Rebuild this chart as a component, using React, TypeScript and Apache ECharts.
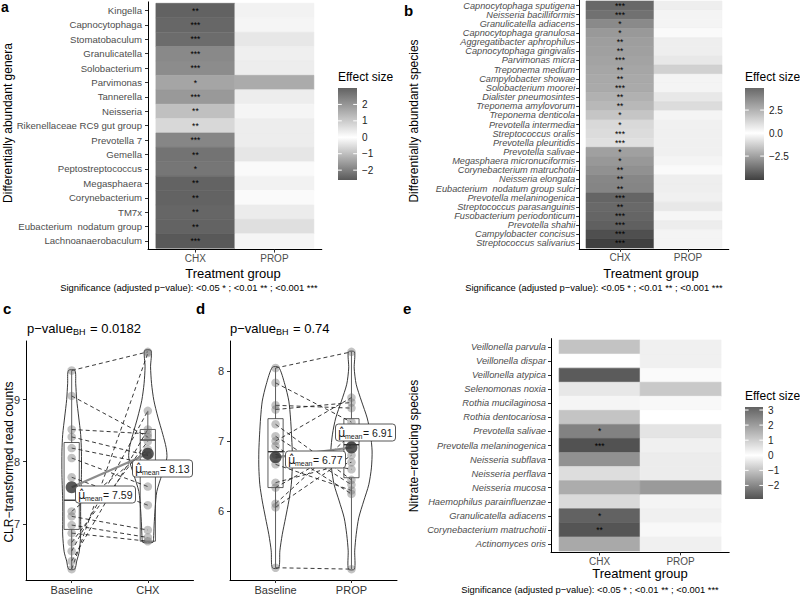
import React, { useEffect, useRef } from "react";
import * as echarts from "echarts";

// ---------------- data ----------------
const treatments = ["CHX", "PROP"];

const genera = [
  "Kingella", "Capnocytophaga", "Stomatobaculum", "Granulicatella", "Solobacterium",
  "Parvimonas", "Tannerella", "Neisseria", "Rikenellaceae RC9 gut group", "Prevotella 7",
  "Gemella", "Peptostreptococcus", "Megasphaera", "Corynebacterium", "TM7x",
  "Eubacterium  nodatum group", "Lachnoanaerobaculum",
];
const generaCHX = [3.0, 2.9, 2.8, 2.25, 2.2, 1.72, 1.95, 1.2, 0.75, -1.9, -2.2, -2.15, -2.45, -2.45, -2.4, -2.45, -2.6];
const generaPROP = [0.25, 0.2, 0.45, 0.3, 0.35, 1.6, 0.35, 0.2, 0.35, 0.35, -0.4, 0.1, 0.25, 0.1, -0.3, -0.5, 0.2];
const generaSig = ["**", "***", "***", "***", "***", "*", "***", "**", "**", "***", "**", "*", "**", "**", "**", "**", "***"];

const species = [
  "Capnocytophaga sputigena", "Neisseria bacilliformis", "Granulicatella adiacens",
  "Capnocytophaga granulosa", "Aggregatibacter aphrophilus", "Capnocytophaga gingivalis",
  "Parvimonas micra", "Treponema medium", "Campylobacter showae", "Solobacterium moorei",
  "Dialister pneumosintes", "Treponema amylovorum", "Treponema denticola", "Prevotella intermedia",
  "Streptococcus oralis", "Prevotella pleuritidis", "Prevotella salivae",
  "Megasphaera micronuciformis", "Corynebacterium matruchotii", "Neisseria elongata",
  "Eubacterium  nodatum group sulci", "Prevotella melaninogenica", "Streptococcus parasanguinis",
  "Fusobacterium periodonticum", "Prevotella shahii", "Campylobacter concisus", "Streptococcus salivarius",
];
const speciesCHX = [4.9, 4.6, 3.8, 3.3, 3.15, 3.1, 3.0, 2.9, 2.8, 2.75, 2.55, 2.3, 1.9, 1.25, 1.15, 1.0,
  -2.55, -2.75, -2.95, -3.2, -3.25, -4.1, -4.0, -4.1, -4.25, -4.7, -5.1];
const speciesPROP = [0.55, 0.35, 0.35, 0.15, 0.55, 0.55, 0.75, 1.5, 0.35, 0.35, 0.75, 1.15, 0.35, 0.5,
  0.5, 0.5, 0.5, 0.35, 0.15, 0.55, 0.55, 0.5, 0.75, 0.3, 0.6, 0.35, 0.35];
const speciesSig = ["***", "***", "*", "*", "**", "**", "***", "**", "**", "***", "**", "**", "*", "*",
  "***", "***", "*", "*", "**", "**", "**", "***", "**", "***", "***", "***", "***"];

const nitrate = [
  "Veillonella parvula", "Veillonella dispar", "Veillonella atypica", "Selenomonas noxia",
  "Rothia mucilaginosa", "Rothia dentocariosa", "Prevotella salivae", "Prevotella melaninogenica",
  "Neisseria subflava", "Neisseria perflava", "Neisseria mucosa", "Haemophilus parainfluenzae",
  "Granulicatella adiacens", "Corynebacterium matruchotii", "Actinomyces oris",
];
const nitrateCHX = [-1.0, 0.02, -2.75, -0.4, 0.2, 1.2, -2.1, -2.9, 2.25, 0.7, 1.7, 0.75, 3.2, -2.85, 1.75];
const nitratePROP = [0.3, 0.3, 0.1, 1.1, 0.15, 0.0, 0.55, 0.3, 0.38, 0.38, 2.05, 0.22, 0.3, 0.15, 0.3];
const nitrateSig = ["", "", "", "", "", "", "*", "***", "", "", "", "", "*", "**", ""];

const legendTicksA = [-2, -1, 0, 1, 2];
const legendTicksB = [-2.5, 0, 2.5];
const legendTicksE = [-2, -1, 0, 1, 2, 3];

// panel c
const cGroups = ["Baseline", "CHX"];
const cBaseline = [9.47, 9.06, 8.52, 8.4, 8.22, 8.06, 7.75, 7.2, 7.12, 6.98, 6.85, 6.7, 6.56, 6.4, 6.27];
const cTreated = [9.77, 8.4, 8.45, 8.1, 7.97, 7.6, 7.3, 8.2, 6.9, 6.78, 6.72, 8.33, 8.82, 8.52, 9.75];
const cBox = [[6.27, 6.91, 7.38, 8.31, 9.47], [6.72, 6.72, 8.35, 8.52, 8.82]];
const cMeans = [7.59, 8.13];
const cPValue = "0.0182";
const cTicks = [7, 8, 9];
const cViolinBase = [[9.47, 0.043], [9.26, 0.053], [9.0, 0.066], [8.72, 0.092], [8.44, 0.118], [8.17, 0.128],
  [7.79, 0.128], [7.36, 0.118], [7.04, 0.118], [6.82, 0.118], [6.55, 0.099], [6.4, 0.066], [6.27, 0.04]];
const cViolinTreat = [[9.79, 0.043], [9.53, 0.036], [9.26, 0.049], [8.99, 0.079], [8.72, 0.132], [8.44, 0.197],
  [8.23, 0.24], [8.06, 0.25], [7.79, 0.184], [7.52, 0.118], [7.25, 0.096], [6.98, 0.083], [6.76, 0.075], [6.7, 0.066]];

// panel d
const dGroups = ["Baseline", "PROP"];
const dBaseline = [8.04, 7.83, 7.51, 7.45, 7.24, 7.07, 7.0, 6.93, 6.81, 6.67, 6.41, 6.34, 6.11, 6.06, 5.2];
const dTreated = [8.27, 7.27, 7.47, 7.55, 6.45, 6.38, 7.62, 6.25, 6.6, 6.3, 6.7, 6.95, 7.1, 6.8, 5.18];
const dBox = [[5.2, 6.34, 6.85, 7.32, 8.04], [5.18, 6.48, 6.95, 7.32, 8.27]];
const dMeans = [6.77, 6.91];
const dPValue = "0.74";
const dTicks = [6, 7, 8];
const dViolinBase = [[8.05, 0.043], [7.81, 0.122], [7.57, 0.175], [7.33, 0.197], [7.1, 0.21], [6.86, 0.22],
  [6.62, 0.22], [6.38, 0.207], [6.15, 0.175], [5.91, 0.132], [5.67, 0.088], [5.44, 0.057], [5.2, 0.043]];
const dViolinTreat = [[8.27, 0.04], [8.04, 0.036], [7.81, 0.062], [7.57, 0.132], [7.33, 0.207], [7.1, 0.25],
  [6.86, 0.272], [6.62, 0.263], [6.38, 0.228], [6.15, 0.162], [5.91, 0.096], [5.67, 0.062], [5.44, 0.043], [5.18, 0.04]];

// ---------------- styling ----------------
const FONT = "'Liberation Sans', Arial, Helvetica, sans-serif";
const MINUS = "\u2212";
const LOW = [64, 64, 64];
const HIGH = [98, 98, 98];
const LOWC = "#404040";
const HIGHC = "#626262";

function colAt(v: number, M: number) {
  const t = Math.min(1, Math.abs(v) / M);
  const end = v >= 0 ? HIGH : LOW;
  const c = end.map((e) => Math.round(255 + (e - 255) * t));
  return `rgb(${c[0]},${c[1]},${c[2]})`;
}
const fmt = (v: number, d: number) => (v < 0 ? MINUS : "") + Math.abs(v).toFixed(d);

function txt(x: number, y: number, text: string, o: any = {}) {
  return {
    type: "text", x, y, silent: true, rotation: o.rot || 0, z: o.z || 0,
    style: {
      text, fontFamily: o.family || FONT, fontSize: o.size || 12, fill: o.color || "#000",
      fontWeight: o.weight || "normal", fontStyle: o.style || "normal",
      align: o.align || "left", verticalAlign: o.va || "middle", rich: o.rich,
    },
  };
}

const axisLine = { show: true, onZero: false, lineStyle: { color: "#000", width: 1 } };
const tick = (vals: number[]) => ({ show: true, length: 3, customValues: vals, lineStyle: { color: "#333", width: 1 } });

function heatPanel(gi: number, names: string[], chx: number[], prop: number[], sig: string[], lab: any) {
  const data: number[][] = [];
  const sigs: string[] = [];
  chx.forEach((v, i) => { data.push([1, i + 1, v]); sigs.push(sig[i]); });
  prop.forEach((v, i) => { data.push([2, i + 1, v]); sigs.push(""); });
  const M = Math.max(...chx.map(Math.abs), ...prop.map(Math.abs));
  const rows = names.map((_, i) => i + 1);
  return {
    xAxis: {
      gridIndex: gi, type: "value", min: 0.4, max: 2.6, axisLine, axisTick: tick([1, 2]),
      axisLabel: { customValues: [1, 2], formatter: (v: number) => treatments[Math.round(v) - 1], fontSize: 10, color: "#4d4d4d", margin: 4, fontFamily: FONT },
      splitLine: { show: false },
    },
    yAxis: {
      gridIndex: gi, type: "value", inverse: true, min: 0.4, max: names.length + 0.6, axisLine, axisTick: tick(rows),
      axisLabel: {
        customValues: rows, formatter: (v: number) => names[Math.round(v) - 1], fontSize: lab.size, lineHeight: lab.lh,
        fontStyle: lab.italic ? "italic" : "normal", color: "#4d4d4d", margin: lab.margin, fontFamily: FONT,
        showMinLabel: true, showMaxLabel: true, hideOverlap: false,
      },
      splitLine: { show: false },
    },
    series: {
      type: "custom", xAxisIndex: gi, yAxisIndex: gi, z: 2, silent: true, data,
      renderItem: (params: any, api: any) => {
        const x = api.value(0), y = api.value(1);
        const p0 = api.coord([x - 0.5, y - 0.5]);
        const p1 = api.coord([x + 0.5, y + 0.5]);
        const fill = api.visual("color");
        const rx = Math.min(p0[0], p1[0]), ry = Math.min(p0[1], p1[1]);
        const w = Math.abs(p1[0] - p0[0]), h = Math.abs(p1[1] - p0[1]);
        const s = sigs[params.dataIndex];
        const children: any[] = [{ type: "rect", shape: { x: rx, y: ry, width: w, height: h }, style: { fill, stroke: fill, lineWidth: 0.6 } }];
        if (s) children.push({ type: "text", x: rx + w / 2, y: ry + h / 2, style: { text: s, fontFamily: FONT, fontSize: 8.5, fill: "#000", align: "center", verticalAlign: "middle" } });
        return { type: "group", children };
      },
    },
    visualMap: { show: false, dimension: 2, min: -M, max: M, inRange: { color: [LOWC, "#ffffff", HIGHC] } },
    M, vals: chx.concat(prop),
  };
}

function legendEls(x: number, y: number, w: number, h: number, vals: number[], ticks: number[], dec: number) {
  const mn = Math.min(...vals), mx = Math.max(...vals);
  const M = Math.max(Math.abs(mn), Math.abs(mx));
  const py = (v: number) => y + ((mx - v) / (mx - mn)) * h;
  const els: any[] = [txt(x, y - 11, "Effect size", { size: 12 })];
  els.push({
    type: "rect", silent: true, shape: { x, y, width: w, height: h },
    style: {
      fill: new echarts.graphic.LinearGradient(0, 0, 0, 1, [
        { offset: 0, color: colAt(mx, M) }, { offset: mx / (mx - mn), color: "#ffffff" }, { offset: 1, color: colAt(mn, M) },
      ]),
    },
  });
  ticks.forEach((t) => {
    const yy = py(t);
    els.push({ type: "line", silent: true, shape: { x1: x, y1: yy, x2: x + w / 5, y2: yy }, style: { stroke: "#fff", lineWidth: 1 } });
    els.push({ type: "line", silent: true, shape: { x1: x + w - w / 5, y1: yy, x2: x + w, y2: yy }, style: { stroke: "#fff", lineWidth: 1 } });
    els.push(txt(x + w + 5, yy, fmt(t, dec), { size: 10, color: "#222" }));
  });
  return els;
}

function withinPanel(ai: number, groups: string[], base: number[], treat: number[], box: number[][], violins: number[][][], means: number[], ticks: number[]) {
  const all = base.concat(treat);
  const lo = Math.min(...all), hi = Math.max(...all), r = hi - lo;
  const xAxis = {
    gridIndex: ai, type: "value", min: 0.4, max: 2.6, axisLine, axisTick: tick([1, 2]),
    axisLabel: { customValues: [1, 2], formatter: (v: number) => groups[Math.round(v) - 1], fontSize: 11, color: "#333", margin: 4, fontFamily: FONT },
    splitLine: { show: false },
  };
  const yAxis = {
    gridIndex: ai, type: "value", min: lo - 0.05 * r, max: hi + 0.05 * r, axisLine, axisTick: tick(ticks),
    axisLabel: { customValues: ticks, fontSize: 11, color: "#333", margin: 6, fontFamily: FONT },
    splitLine: { show: false },
  };
  const series: any[] = [];
  series.push({
    type: "custom", xAxisIndex: ai, yAxisIndex: ai, z: 2, silent: true,
    data: violins.map((p, i) => [i + 1, p[0][0]]),
    renderItem: (params: any, api: any) => {
      const i = params.dataIndex, x = i + 1, prof = violins[i];
      const right = prof.map(([v, w]) => api.coord([x + w, v]));
      const left = prof.slice().reverse().map(([v, w]) => api.coord([x - w, v]));
      return { type: "polygon", shape: { points: right.concat(left), smooth: 0.25 }, style: { fill: "none", stroke: "#222", lineWidth: 0.9 } };
    },
  });
  series.push({
    type: "custom", xAxisIndex: ai, yAxisIndex: ai, z: 3, silent: true,
    data: box.map((b, i) => [i + 1, b[2]]),
    renderItem: (params: any, api: any) => {
      const i = params.dataIndex, x = i + 1;
      const [mn, q1, md, q3, mx] = box[i];
      const pMin = api.coord([x, mn]), pQ1 = api.coord([x, q1]), pMed = api.coord([x, md]), pQ3 = api.coord([x, q3]), pMax = api.coord([x, mx]);
      const xl = api.coord([x - 0.1, q1])[0], xr = api.coord([x + 0.1, q1])[0];
      const st = { stroke: "#333", lineWidth: 0.8, fill: "none" };
      return {
        type: "group", children: [
          { type: "line", shape: { x1: pMin[0], y1: pMin[1], x2: pQ1[0], y2: pQ1[1] }, style: st },
          { type: "line", shape: { x1: pQ3[0], y1: pQ3[1], x2: pMax[0], y2: pMax[1] }, style: st },
          { type: "rect", shape: { x: xl, y: pQ3[1], width: xr - xl, height: pQ1[1] - pQ3[1] }, style: st },
          { type: "line", shape: { x1: xl, y1: pMed[1], x2: xr, y2: pMed[1] }, style: { stroke: "#333", lineWidth: 1.4 } },
        ],
      };
    },
  });
  series.push({
    type: "custom", xAxisIndex: ai, yAxisIndex: ai, z: 4, silent: true,
    data: base.map((b, i) => [1, b, 2, treat[i]]),
    encode: { x: [0, 2], y: [1, 3] },
    renderItem: (params: any, api: any) => {
      const p1 = api.coord([api.value(0), api.value(1)]);
      const p2 = api.coord([api.value(2), api.value(3)]);
      return { type: "line", shape: { x1: p1[0], y1: p1[1], x2: p2[0], y2: p2[1] }, style: { stroke: "#222", lineWidth: 0.9, lineDash: [4, 3] } };
    },
  });
  series.push({
    type: "scatter", xAxisIndex: ai, yAxisIndex: ai, z: 5, silent: true, symbolSize: 8.5,
    data: base.map((v) => [1, v]).concat(treat.map((v) => [2, v])),
    itemStyle: { color: "rgba(105,105,105,0.5)" },
  });
  series.push({
    type: "line", xAxisIndex: ai, yAxisIndex: ai, z: 6, silent: true, showSymbol: false,
    data: means.map((m, i) => [i + 1, m]), lineStyle: { color: "#8c8c8c", width: 2.2 },
  });
  series.push({
    type: "scatter", xAxisIndex: ai, yAxisIndex: ai, z: 7, silent: true, symbolSize: 12,
    data: means.map((m, i) => [i + 1, m]), itemStyle: { color: "#2f2f2f" },
  });
  return { xAxis, yAxis, series };
}

// mean label box (drawn as graphic at the pixel of the mean point)
function meanLabel(px: number, py: number, dx: number, dy: number, m: number) {
  const cx = Math.round(px + dx), cy = Math.round(py + dy);
  const W = 60, H = 17, x0 = cx - W / 2;
  return [
    { type: "rect", silent: true, z: 10, shape: { x: x0 + 0.5, y: cy - H / 2 + 0.5, width: W, height: H, r: 3 }, style: { fill: "#fff", stroke: "#444", lineWidth: 0.9 } },
    txt(x0 + 3, cy + 1, "\u03bc\u0302", { size: 11.5, family: "'DejaVu Sans', sans-serif", color: "#1a1a1a", z: 11 }),
    txt(x0 + 10, cy + 4, "mean", { size: 7, color: "#1a1a1a", z: 11 }),
    txt(x0 + 28, cy + 1, `= ${m.toFixed(2)}`, { size: 10.5, color: "#1a1a1a", z: 11 }),
  ];
}

export default function App() {
  const ref = useRef<HTMLDivElement>(null);
  useEffect(() => {
    if (!ref.current) return;
    const chart = echarts.init(ref.current, null, { renderer: "svg", width: 800, height: 596 });

    const A = heatPanel(0, genera, generaCHX, generaPROP, generaSig, { size: 9.6, lh: 12, italic: false, margin: 6 });
    const B = heatPanel(1, species, speciesCHX, speciesPROP, speciesSig, { size: 9.2, lh: 9, italic: true, margin: 4 });
    const E = heatPanel(2, nitrate, nitrateCHX, nitratePROP, nitrateSig, { size: 9.3, lh: 12, italic: true, margin: 5 });
    const C = withinPanel(3, cGroups, cBaseline, cTreated, cBox, [cViolinBase, cViolinTreat], cMeans, cTicks);
    const D = withinPanel(4, dGroups, dBaseline, dTreated, dBox, [dViolinBase, dViolinTreat], dMeans, dTicks);

    const sigNote = `Significance (adjusted p${MINUS}value): <0.05 * ; <0.01 ** ; <0.001 ***`;
    const pRich = () => ({
      a: { fontSize: 13, fontFamily: FONT, fill: "#000", color: "#000", verticalAlign: "middle" },
      b: { fontSize: 9, fontFamily: FONT, fill: "#000", color: "#000", padding: [7, 1, 0, 0], verticalAlign: "middle" },
    });

    const graphic: any[] = [
      txt(1, 0, "a", { size: 14, weight: "bold", va: "top" }),
      txt(404, 3, "b", { size: 15, weight: "bold", va: "top" }),
      txt(3, 301, "c", { size: 15, weight: "bold", va: "top" }),
      txt(196, 301, "d", { size: 15, weight: "bold", va: "top" }),
      txt(403, 301, "e", { size: 15, weight: "bold", va: "top" }),
      txt(8, 123, "Differentially abundant genera", { size: 12, align: "center", rot: Math.PI / 2 }),
      txt(414, 121, "Differentially abundant species", { size: 12, align: "center", rot: Math.PI / 2 }),
      txt(414, 446, `Nitrate${MINUS}reducing species`, { size: 12, align: "center", rot: Math.PI / 2 }),
      txt(9, 462, `CLR${MINUS}transformed read counts`, { size: 12, align: "center", rot: Math.PI / 2 }),
      txt(233, 273, "Treatment group", { size: 13, align: "center" }),
      txt(651, 273, "Treatment group", { size: 13, align: "center" }),
      txt(640, 573, "Treatment group", { size: 13, align: "center" }),
      txt(189, 287, sigNote, { size: 9.4, align: "center" }),
      txt(594, 287, sigNote, { size: 9.4, align: "center" }),
      txt(590, 589, sigNote, { size: 9.4, align: "center" }),
      txt(27, 328, `{a|p${MINUS}value}{b|BH}{a| = ${cPValue}}`, { rich: pRich() }),
      txt(230, 328, `{a|p${MINUS}value}{b|BH}{a| = ${dPValue}}`, { rich: pRich() }),
      ...legendEls(338, 88, 19, 92, A.vals, legendTicksA, 0),
      ...legendEls(745, 88, 19, 92, B.vals, legendTicksB, 1),
      ...legendEls(745, 407, 18, 92, E.vals, legendTicksE, 0),
    ];

    const vms = [A, B, E].map((P, i) => ({ ...P.visualMap, seriesIndex: i }));

    chart.setOption({
      animation: false,
      backgroundColor: "#ffffff",
      grid: [
        { left: 148, top: 1.9, width: 173.8, height: 247.7 },
        { left: 579.2, top: 0.1, width: 149.6, height: 248.8 },
        { left: 551, top: 338.6, width: 178.2, height: 213.8 },
        { left: 26, top: 341, width: 167.5, height: 239 },
        { left: 230, top: 341, width: 167, height: 239 },
      ],
      xAxis: [A.xAxis, B.xAxis, E.xAxis, C.xAxis, D.xAxis],
      yAxis: [A.yAxis, B.yAxis, E.yAxis, C.yAxis, D.yAxis],
      visualMap: vms,
      series: [A.series, B.series, E.series, ...C.series, ...D.series],
      graphic,
    });

    // place the mean labels at the pixel positions of the means, through the axes' own scales
    const labels: any[] = [];
    const place = (ai: number, means: number[], offs: number[][]) => {
      means.forEach((m, i) => {
        const p = chart.convertToPixel({ xAxisIndex: ai, yAxisIndex: ai } as any, [i + 1, m]) as number[];
        if (p && isFinite(p[0]) && isFinite(p[1])) labels.push(...meanLabel(p[0], p[1], offs[i][0], offs[i][1], m));
      });
    };
    place(3, cMeans, [[33, 7], [14, 14]]);
    place(4, dMeans, [[39, 2], [14, -15]]);
    chart.setOption({ graphic: graphic.concat(labels) });

    return () => chart.dispose();
  }, []);
  return <div ref={ref} style={{ position: "absolute", left: 0, top: 0, width: 800, height: 596, background: "#fff" }} />;
}
